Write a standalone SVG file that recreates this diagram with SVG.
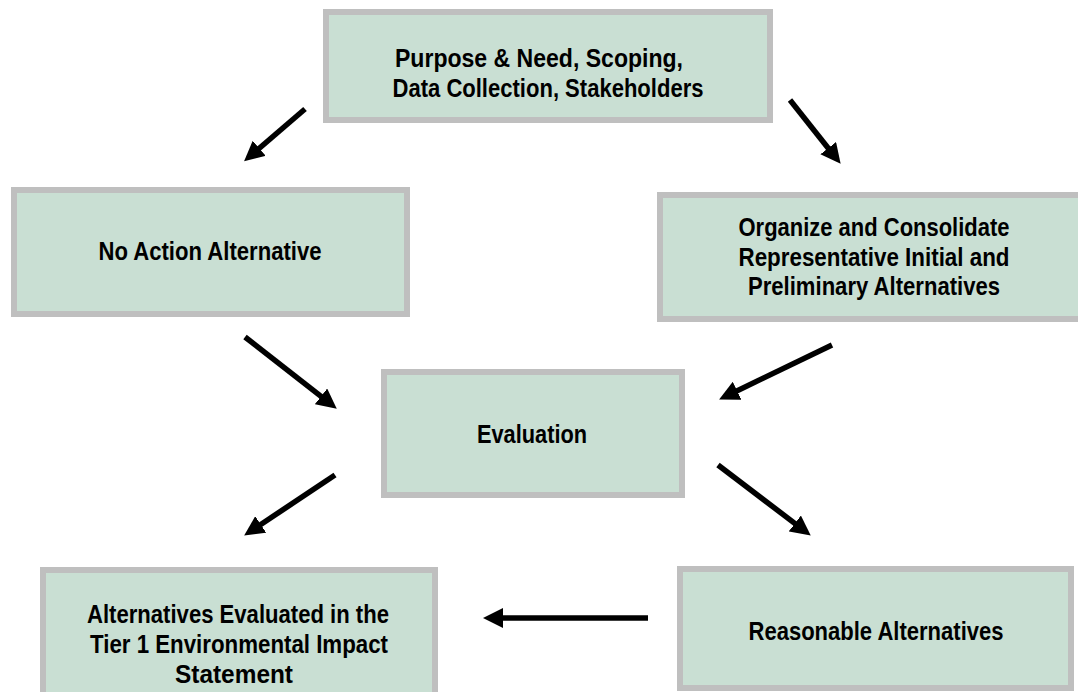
<svg xmlns="http://www.w3.org/2000/svg" width="1078" height="692" viewBox="0 0 1078 692">
  <style>
    .box { fill: #c9dfd3; stroke: #bfbfbf; stroke-width: 6; }
    .lbl { font-family: "Liberation Sans", Arial, sans-serif; font-weight: bold; font-size: 25px; fill: #000; text-anchor: middle; }
    .arrow { stroke: #000; stroke-width: 5.5; fill: none; marker-end: url(#head); }
  </style>
  <defs>
    <marker id="head" markerUnits="userSpaceOnUse" markerWidth="20" markerHeight="20" viewBox="0 0 20 20" refX="9" refY="10" orient="auto">
      <path d="M0,0 L20,10 L0,20 z" fill="#000"/>
    </marker>
  </defs>
  <rect width="1078" height="692" fill="#fff"/>

  <g id="node-purpose">
    <rect class="box" x="326" y="12" width="444" height="108"/>
    <text class="lbl" x="539" y="67" textLength="288" lengthAdjust="spacingAndGlyphs">Purpose &amp; Need, Scoping,</text>
    <text class="lbl" x="548" y="97" textLength="311" lengthAdjust="spacingAndGlyphs">Data Collection, Stakeholders</text>
  </g>

  <g id="node-noaction">
    <rect class="box" x="14" y="190" width="393" height="124"/>
    <text class="lbl" x="210" y="260" textLength="223" lengthAdjust="spacingAndGlyphs">No Action Alternative</text>
  </g>

  <g id="node-organize">
    <rect class="box" x="660" y="195" width="430" height="124"/>
    <text class="lbl" x="874" y="236" textLength="271" lengthAdjust="spacingAndGlyphs">Organize and Consolidate</text>
    <text class="lbl" x="874" y="266" textLength="271" lengthAdjust="spacingAndGlyphs">Representative Initial and</text>
    <text class="lbl" x="874" y="295" textLength="252" lengthAdjust="spacingAndGlyphs">Preliminary Alternatives</text>
  </g>

  <g id="node-evaluation">
    <rect class="box" x="384" y="372" width="298" height="123"/>
    <text class="lbl" x="532" y="443" textLength="110" lengthAdjust="spacingAndGlyphs">Evaluation</text>
  </g>

  <g id="node-eis">
    <rect class="box" x="43" y="570" width="392" height="130"/>
    <text class="lbl" x="238" y="623" textLength="302" lengthAdjust="spacingAndGlyphs">Alternatives Evaluated in the</text>
    <text class="lbl" x="239" y="653" textLength="298" lengthAdjust="spacingAndGlyphs">Tier 1 Environmental Impact</text>
    <text class="lbl" x="234" y="683" textLength="118" lengthAdjust="spacingAndGlyphs">Statement</text>
  </g>

  <g id="node-reasonable">
    <rect class="box" x="680" y="569" width="391" height="119"/>
    <text class="lbl" x="876" y="640" textLength="255" lengthAdjust="spacingAndGlyphs">Reasonable Alternatives</text>
  </g>

  <g id="connectors">
    <line class="arrow" x1="305" y1="109" x2="252.4" y2="154.2"/>
    <line class="arrow" x1="790" y1="100" x2="833.8" y2="155.2"/>
    <line class="arrow" x1="245" y1="337" x2="328.1" y2="401.9"/>
    <line class="arrow" x1="832" y1="345" x2="729" y2="394.7"/>
    <line class="arrow" x1="335" y1="475" x2="253.3" y2="529.5"/>
    <line class="arrow" x1="718" y1="465" x2="802" y2="528.9"/>
    <line class="arrow" x1="648" y1="618" x2="494" y2="618"/>
  </g>
</svg>
